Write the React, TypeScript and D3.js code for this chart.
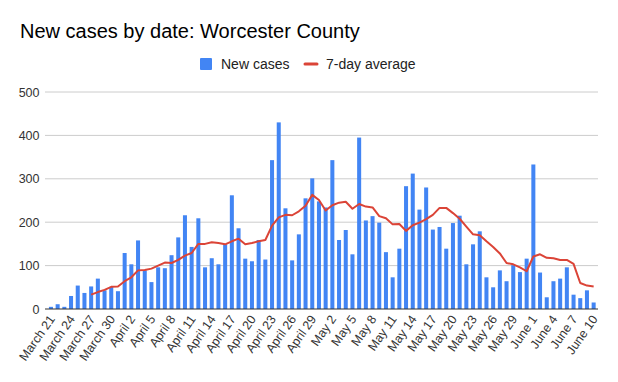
import React from "react";
import * as d3 from "d3";

const TITLE = "New cases by date: Worcester County";
const SERIES_NAMES = ["New cases", "7-day average"];
const START_DATE = new Date(2020, 2, 21);
const END_DATE = new Date(2020, 5, 10);
const Y_TICKS = [0, 100, 200, 300, 400, 500];

const newCases = [
  5, 11, 5, 30, 54, 37, 52, 70, 43, 51, 41, 129, 103, 158, 89, 62, 96, 94, 124, 165,
  216, 143, 209, 96, 117, 103, 149, 262, 186, 116, 110, 159, 114, 343, 430, 232, 112, 172, 255, 301,
  248, 234, 343, 159, 182, 126, 395, 204, 214, 199, 131, 73, 139, 283, 312, 229, 280, 183, 189, 139,
  198, 215, 103, 149, 179, 73, 50, 89, 64, 101, 85, 116, 333, 84, 27, 64, 70, 96, 33, 25,
  43, 15,
];

const avg7: (number | null)[] = [
  null, null, null, null, null, null, 33, 39, 44, 51, 52, 64, 73, 89, 90, 93, 100, 107, 106, 113,
  123, 129, 150, 150, 154, 152, 149, 156, 162, 149, 152, 156, 159, 192, 211, 217, 216, 225, 238, 263,
  251, 227, 239, 245, 247, 231, 242, 236, 234, 214, 209, 195, 196, 180, 193, 199, 207, 217, 233, 233,
  221, 208, 190, 172, 170, 156, 143, 128, 106, 103, 96, 87, 121, 126, 118, 117, 113, 113, 104, 60,
  54, 52,
];

const W = 618;
const H = 382;
const M = { left: 47.6, right: 21, top: 92, bottom: 73 };

export default function App() {
  const dates = d3.timeDay.range(START_DATE, d3.timeDay.offset(END_DATE, 1));
  const fmt = d3.timeFormat("%B %-d");
  const labels = dates.map((d) => fmt(d));

  const x = d3
    .scaleBand<string>()
    .domain(labels)
    .range([M.left, W - M.right])
    .paddingInner(0.4)
    .paddingOuter(0.2);
  const y = d3.scaleLinear().domain([0, 500]).range([H - M.bottom, M.top]);

  const line = d3
    .line<number | null>()
    .defined((d) => d != null)
    .x((_, i) => (x(labels[i]) as number) + x.bandwidth() / 2)
    .y((d) => y(d as number));

  const font = "Arial, 'Liberation Sans', sans-serif";
  const y0 = y(0);
  const gx1 = 45;
  const gx2 = W - M.right + 1;

  return (
    <svg width={W} height={H} style={{ position: "absolute", left: 0, top: 0, background: "#fff" }} fontFamily={font}>
      <rect width={W} height={H} fill="#fff" />
      <text x={20} y={38} fontSize={20} fill="#000">{TITLE}</text>

      {/* legend */}
      <rect x={200} y={58} width={12} height={12} fill="#4285F4" rx={1} />
      <text x={221} y={69} fontSize={14} fill="#222">{SERIES_NAMES[0]}</text>
      <line x1={305} x2={317} y1={64} y2={64} stroke="#DB4437" strokeWidth={3} strokeLinecap="round" />
      <text x={326} y={69} fontSize={14} fill="#222">{SERIES_NAMES[1]}</text>

      {/* grid */}
      {Y_TICKS.map((t) => (
        <g key={t}>
          {t > 0 && (
            <line x1={gx1} x2={gx2} y1={y(t)} y2={y(t)} stroke="#ccc" strokeWidth={1} />
          )}
          <text x={39.5} y={y(t) + 4.5} fontSize={12.5} textAnchor="end" fill="#333">{t}</text>
        </g>
      ))}

      {/* bars */}
      {newCases.map((v, i) => (
        <rect
          key={i}
          x={x(labels[i])}
          y={y(v)}
          width={x.bandwidth()}
          height={y0 - y(v)}
          fill="#4285F4"
        />
      ))}

      <line x1={gx1} x2={gx2} y1={y0} y2={y0} stroke="#333" strokeWidth={1} />

      <path d={line(avg7) || ""} fill="none" stroke="#DB4437" strokeWidth={2} strokeLinejoin="round" />

      {/* x labels */}
      {labels.map((l, i) =>
        i % 3 === 0 ? (
          <text
            key={l}
            transform={`translate(${(x(l) as number) + x.bandwidth() / 2 + 4.5},${y0 + 10}) rotate(-55)`}
            fontSize={12.5}
            textAnchor="end"
            fill="#333"
          >
            {l}
          </text>
        ) : null
      )}
    </svg>
  );
}
